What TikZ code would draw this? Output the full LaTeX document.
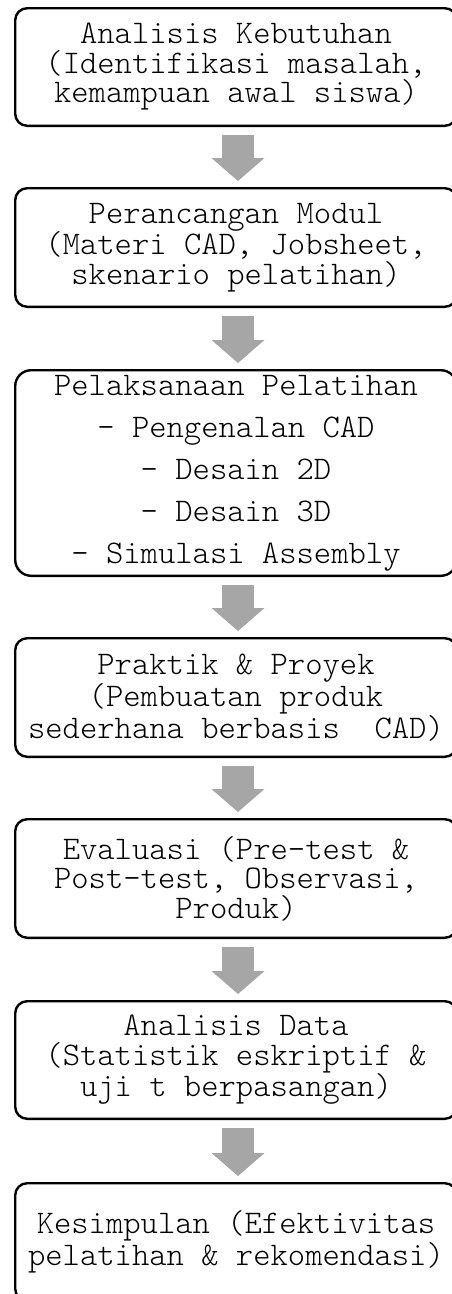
\documentclass[tikz,border=0pt]{standalone}
\usepackage{fontspec}
\setmainfont{Latin Modern Mono Light}
\usetikzlibrary{arrows.meta}
\definecolor{arrowgray}{RGB}{166,166,166}
\begin{document}
\begin{tikzpicture}[x=1pt,y=1pt,
  stage/.style={draw, line width=2.4pt, rounded corners=12pt, minimum width=441.6pt,
    inner sep=0pt, align=center, font=\fontsize{33}{29.5}\selectfont},
  flowarrow/.style={draw=arrowgray, line width=32pt,
    -{Triangle[width=53pt,length=23pt,line width=0pt]}}]
\useasboundingbox (0,0) rectangle (452,-1294);
\clip (0,0) rectangle (452,-1294);
\node[stage, minimum height=117.6pt] (b1) at (236,-67)
  {Analisis Kebutuhan\\(Identifikasi masalah,\\kemampuan awal siswa)};
\node[stage, minimum height=118.6pt] (b2) at (236,-247.5)
  {Perancangan Modul\\(Materi CAD, Jobsheet,\\skenario pelatihan)};
\node[stage, minimum height=205.6pt, rounded corners=16pt,
  font=\fontsize{33}{42}\selectfont] (b3) at (236,-473)
  {Pelaksanaan Pelatihan\\- Pengenalan CAD\\- Desain 2D\\- Desain 3D\\- Simulasi Assembly};
\node[stage, minimum height=118.6pt] (b4) at (236,-697.5)
  {Praktik \& Proyek\\(Pembuatan produk\\sederhana berbasis~~CAD)};
\node[stage, minimum height=118.6pt] (b5) at (236,-878.5)
  {Evaluasi (Pre-test \&\\Post-test, Observasi,\\Produk)};
\node[stage, minimum height=117.6pt] (b6) at (236,-1060)
  {Analisis Data\\(Statistik eskriptif \&\\uji t berpasangan)};
\node[stage, minimum height=117.6pt] (b7) at (236,-1242)
  {Kesimpulan (Efektivitas\\pelatihan \& rekomendasi)};
\foreach \a/\b in {b1/b2,b2/b3,b3/b4,b4/b5,b5/b6,b6/b7}
  \draw[flowarrow] ([xshift=2pt,yshift=-8pt]\a.south) -- ([xshift=2pt,yshift=6pt]\b.north);
\end{tikzpicture}
\end{document}
